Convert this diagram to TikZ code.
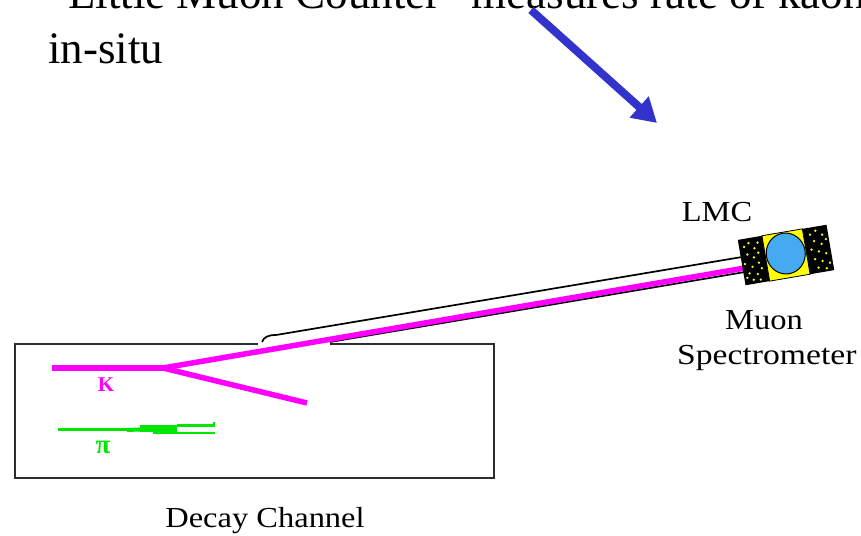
\documentclass[tikz,border=0pt]{standalone}
\usepackage{fontspec}
\setmainfont{Liberation Serif}
\newfontfamily\labelfont[FakeStretch=1.12]{Liberation Serif}
\usetikzlibrary{arrows.meta}

\definecolor{kaon}{RGB}{255,0,255}
\definecolor{pion}{RGB}{0,230,0}
\definecolor{pointerblue}{RGB}{51,51,204}
\definecolor{lmcblue}{RGB}{70,170,240}
\definecolor{lmcyellow}{RGB}{255,255,0}
\definecolor{edgegray}{RGB}{45,45,45}

\begin{document}
\begin{tikzpicture}[x=1pt,y=1pt,
  headline/.style={font=\fontsize{45}{52}\selectfont, anchor=base west, inner sep=0pt},
  caption/.style={font=\labelfont\fontsize{29}{34}\selectfont, inner sep=0pt},
  track/.style={line width=5.5pt, color=kaon, line cap=butt},
  pionline/.style={color=pion},
  tube/.style={line width=1.7pt, black},
  dot/.style={fill=lmcyellow, draw=none}]
\useasboundingbox (0,0) rectangle (861,535);
\clip (0,0) rectangle (861,535);

% heading
\node[headline] (title1) at (48,526) {“Little Muon Counter” measures rate of kaons};
\node[headline] (title2) at (48,471) {in-situ};

% pointer arrow
\coordinate (arrowtail) at (531,525);
\coordinate (arrowtip) at (657,412);
\draw[line width=8pt, pointerblue, -{Triangle[length=24pt,width=27pt]}] (arrowtail) -- (arrowtip);

% decay channel
\node[draw=edgegray, line width=2pt, minimum width=479pt, minimum height=134pt,
      inner sep=0pt, anchor=south west] (channel) at (14,56) {};
\node[caption, anchor=base] (decaylabel) at (265,8) {Decay Channel};

% tube towards the muon counter
\coordinate (tubeA) at (262,193);
\coordinate (tubeB) at (276,200);
\coordinate (tubeC) at (742,278);
\coordinate (tubeD) at (745,263);
\coordinate (tubeE) at (330,193);
\fill[white] (258,187) rectangle (330,194);
\draw[tube] (tubeA) .. controls (264,198) and (268,200) .. (tubeB) -- (tubeC);
\draw[tube] (tubeE) -- (tubeD);

% kaon tracks
\coordinate (kstart) at (52,167);
\coordinate (vertex) at (163,167);
\coordinate (kdown) at (307,132);
\coordinate (kup) at (745,267);
\draw[track] (kstart) -- (vertex);
\draw[track] (vertex) -- (kdown);
\draw[track] (vertex) -- (kup);
\node[font=\bfseries\fontsize{21}{21}\selectfont, text=kaon, inner sep=0pt] (klabel) at (106,150) {K};

% pion track
\coordinate (pstart) at (58,105);
\coordinate (pmid) at (127,105);
\draw[pionline, line width=3pt] (pstart) -- (pmid);
\draw[pionline, line width=4pt] (pmid) -- (140,105.5);
\fill[pion] (140,103) rectangle (177,110);
\fill[pion] (153,101) rectangle (177,103);
\draw[pionline, line width=2.5pt] (177,109.5) -- (215,109.5);
\draw[pionline, line width=2.5pt] (177,101.8) -- (215,101.8);
\draw[pionline, line width=2.5pt] (213.8,108.5) -- (213.8,113);
\node[font=\bfseries\fontsize{27}{27}\selectfont, text=pion, inner sep=0pt] (pilabel) at (103,88) {π};

% little muon counter
\begin{scope}[shift={(786,280)}, rotate=9.7]
  \fill[black] (-45,-23) rectangle (45,23);
  \foreach \px/\py in {-40/15,-35/18,-30/12,-26/17,-38/7,-32/3,-27/7,-42/-2,
                       -35/-6,-28/-3,-39/-12,-31/-14,-26/-9,-36/-19,-29/-20,-42/-16,
                       27/16,33/19,39/14,30/9,37/5,42/9,26/1,33/-2,40/-5,
                       28/-9,35/-12,42/-15,30/-18,38/-20}
    \fill[dot] (\px,\py) circle (1.3);
  \filldraw[fill=lmcyellow, draw=black, line width=0.8pt] (-20.5,-23) rectangle (20.5,23);
  \filldraw[fill=lmcblue, draw=black, line width=1pt] (0,1.5) ellipse (19.5 and 20.5);
\end{scope}
\node[caption, anchor=base] (lmclabel) at (717,313) {LMC};
\node[caption, anchor=base] (muonlabel) at (764,205) {Muon};
\node[caption, anchor=base west, font=\labelfont\addfontfeature{FakeStretch=1.16}\fontsize{29}{34}\selectfont] (spectlabel) at (677,170) {Spectrometer};
\end{tikzpicture}
\end{document}
